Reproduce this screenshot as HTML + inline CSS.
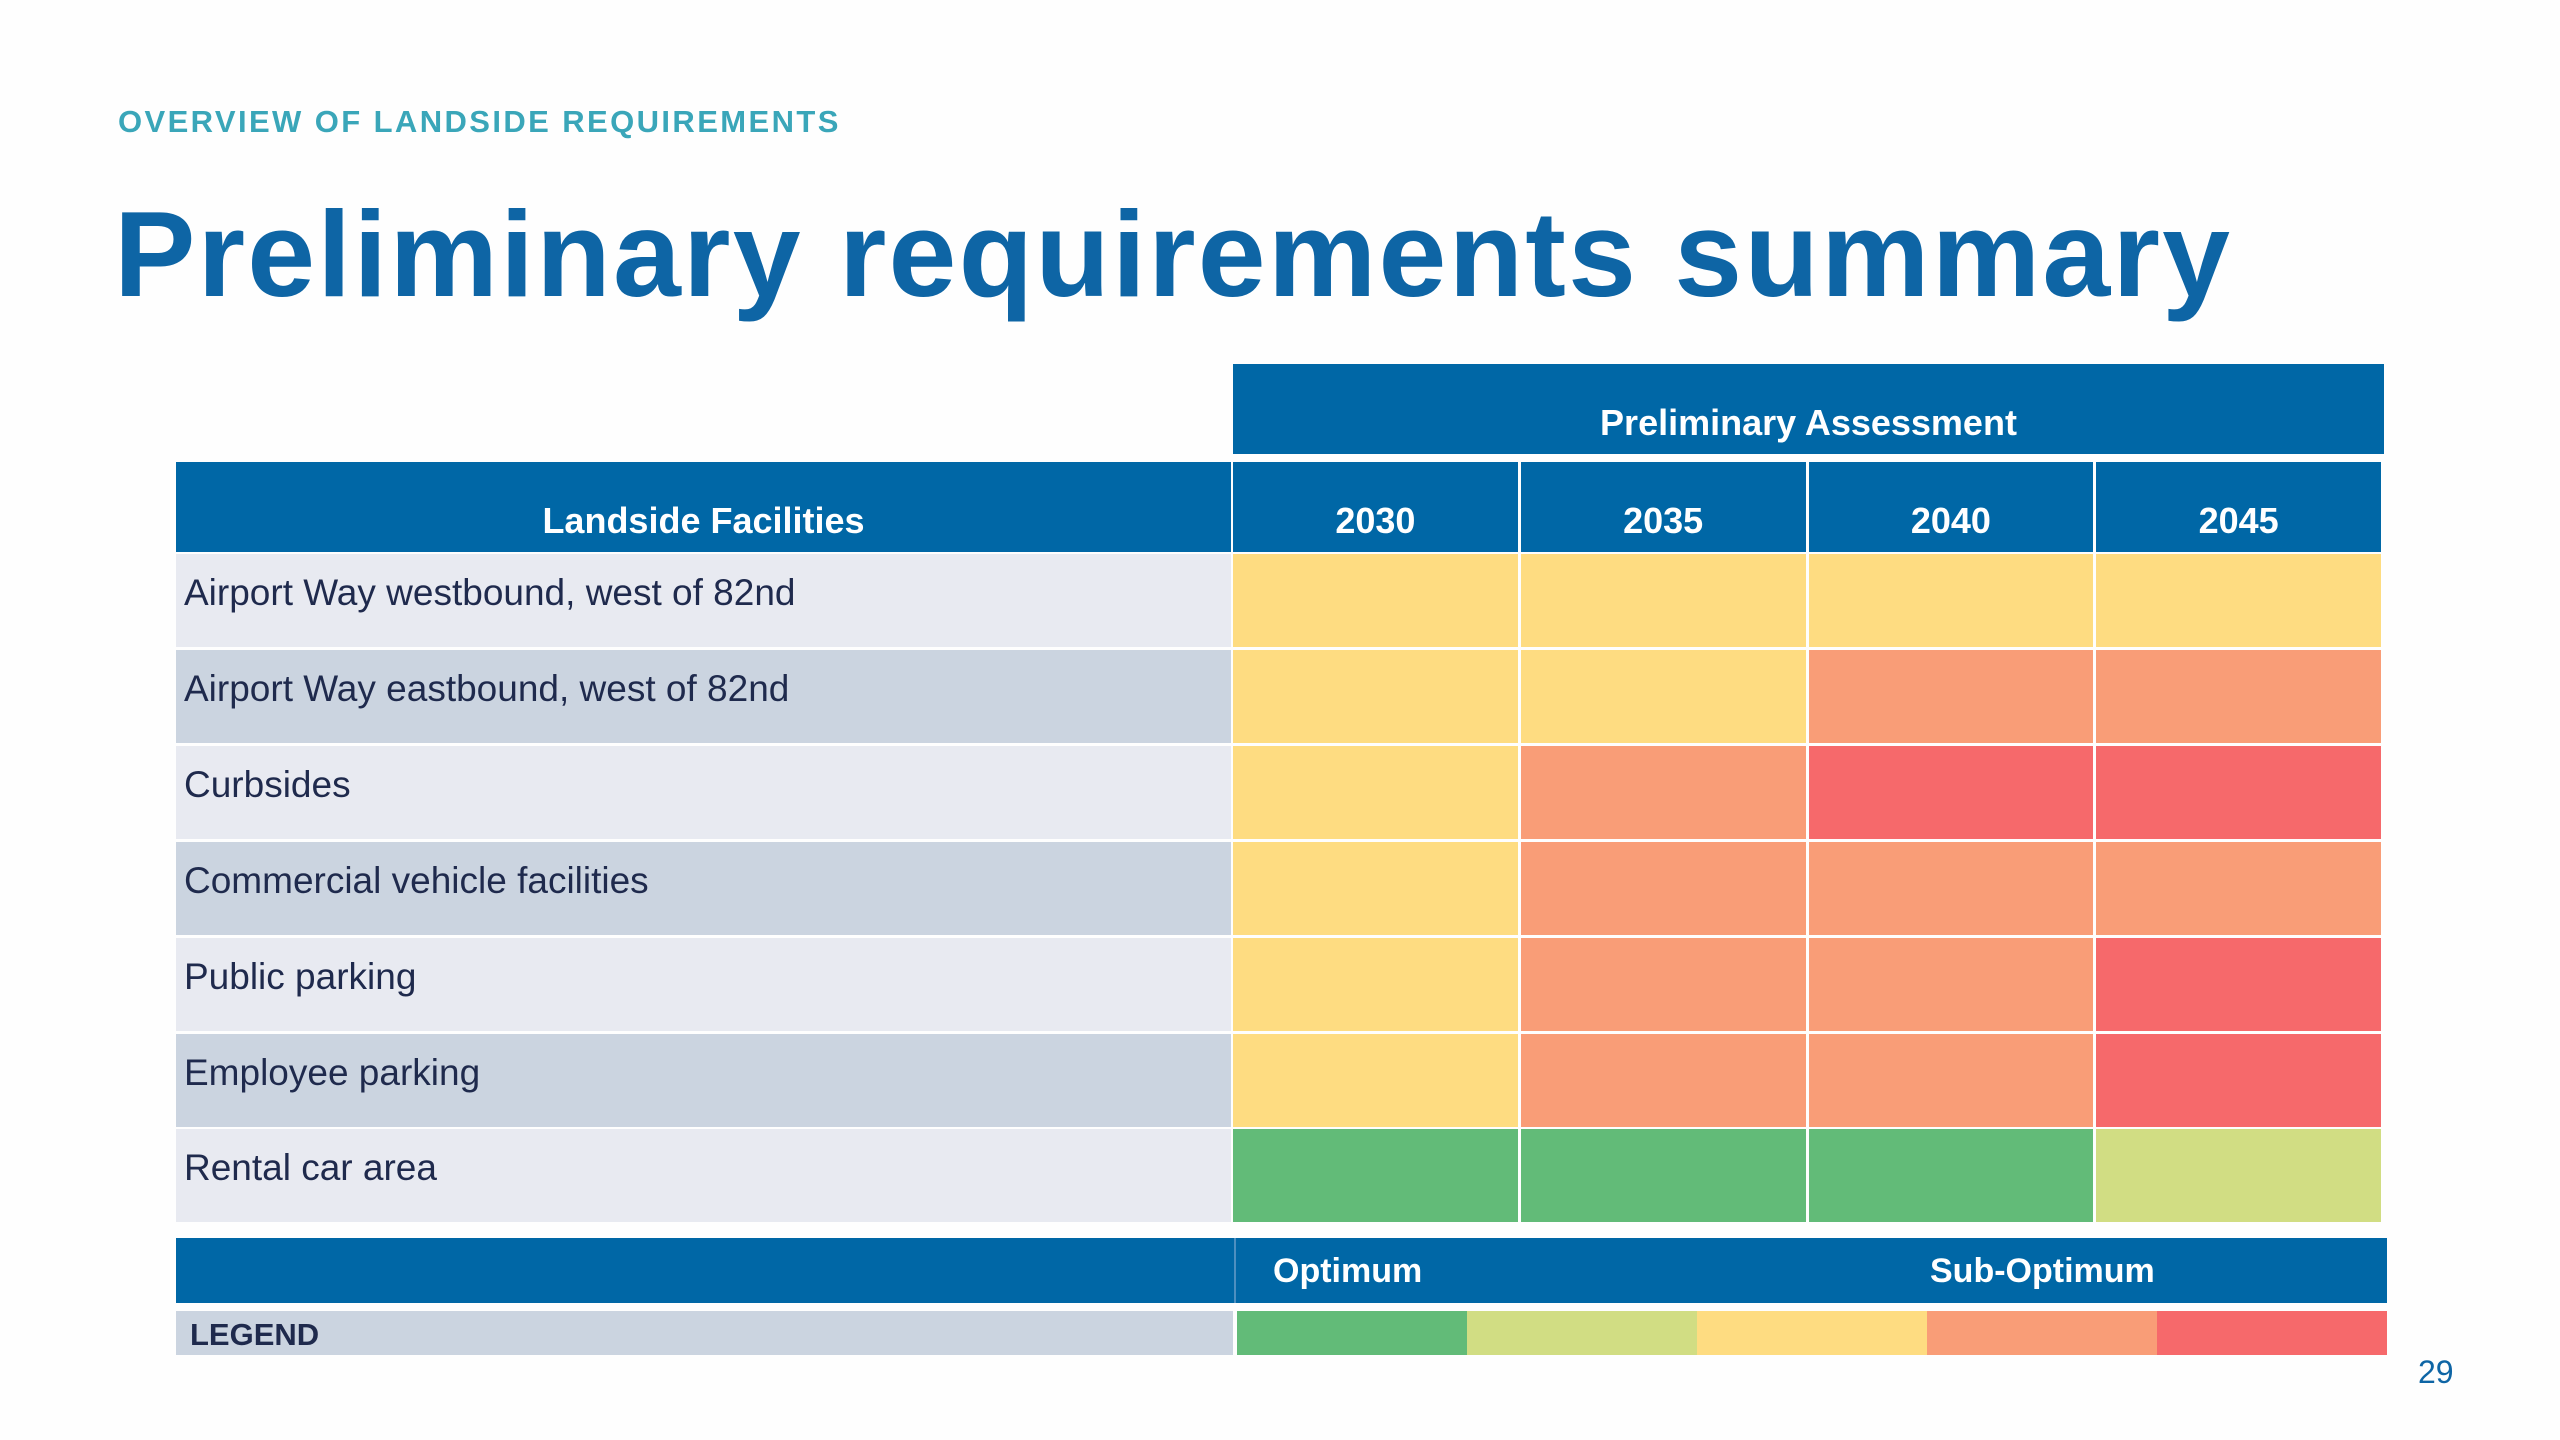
<!DOCTYPE html>
<html><head><meta charset="utf-8"><style>
body{margin:0;width:2560px;height:1440px;background:#fefefe;position:relative;overflow:hidden;font-family:"Liberation Sans",sans-serif}
.a{position:absolute;box-sizing:border-box}
.hdr{background:#0067a6;color:#fff;font-weight:bold;font-size:36px;display:flex;align-items:flex-end;justify-content:center;padding-bottom:10px}
.lab{color:#1f2a4d;font-size:37px;padding-left:8px;padding-top:18px}
</style></head><body>
<div class="a" style="left:118px;top:104px;font-size:31px;font-weight:bold;color:#3aa6b9;letter-spacing:2.4px">OVERVIEW OF LANDSIDE REQUIREMENTS</div>
<div class="a" style="left:114px;top:184px;font-size:122px;font-weight:bold;color:#0e65a5;letter-spacing:2.2px;white-space:nowrap">Preliminary requirements summary</div>
<div class="a hdr" style="left:1233px;top:364px;width:1151px;height:90px">Preliminary Assessment</div>
<div class="a hdr" style="left:176px;top:462px;width:1055px;height:90px">Landside Facilities</div>
<div id="tbl"></div>
<div class="a" style="left:176px;top:1238px;width:2211px;height:65px;background:#0067a6"></div>
<div class="a" style="left:1234px;top:1238px;width:2px;height:65px;background:#4d8fc0"></div>
<div class="a" style="left:1273px;top:1252px;color:#fff;font-weight:bold;font-size:34px">Optimum</div>
<div class="a" style="left:1930px;top:1252px;color:#fff;font-weight:bold;font-size:34px">Sub-Optimum</div>
<div class="a" style="left:176px;top:1311px;width:1057px;height:44px;background:#cbd4e0;color:#1f2a4d;font-weight:bold;font-size:31px;padding:6px 0 0 14px">LEGEND</div>
<div id="leg"></div>
<div class="a" style="left:2418px;top:1354px;color:#0e65a5;font-size:32px">29</div>
<script>
const years=["2030","2035","2040","2045"];
const facilities=["Airport Way westbound, west of 82nd","Airport Way eastbound, west of 82nd","Curbsides","Commercial vehicle facilities","Public parking","Employee parking","Rental car area"];
// level 0=optimum green ... 4=red
const levels=[[2,2,2,2],[2,2,3,3],[2,3,4,4],[2,3,3,3],[2,3,3,4],[2,3,3,4],[0,0,0,1]];
const palette=["#62bb78","#d1dd83","#fedc81","#f99d77","#f6696b"];
const colX=y=>1233+years.indexOf(y)*287.75;
const rowY=i=>554+i*95.9;
const t=document.getElementById('tbl');
years.forEach(y=>{const d=document.createElement('div');d.className='a hdr';d.style.cssText=`left:${colX(y)}px;top:462px;width:${287.75-3}px;height:90px`;d.textContent=y;


t.appendChild(d);});
facilities.forEach((f,i)=>{const l=document.createElement('div');l.className='a lab';l.style.cssText=`left:176px;top:${rowY(i)}px;width:1055px;height:93px;background:${i%2?'#cbd4e0':'#e8eaf1'}`;l.textContent=f;


t.appendChild(l);
years.forEach((y,j)=>{const c=document.createElement('div');c.className='a';c.style.cssText=`left:${colX(y)}px;top:${rowY(i)}px;width:${287.75-3}px;height:93px;background:${palette[levels[i][j]]}`;


t.appendChild(c);});});
const lg=document.getElementById('leg');
palette.forEach((p,k)=>{const s=document.createElement('div');s.className='a';s.style.cssText=`left:${1237+k*230}px;top:1311px;width:230px;height:44px;background:${p}`;


lg.appendChild(s);});
</script>
</body></html>
